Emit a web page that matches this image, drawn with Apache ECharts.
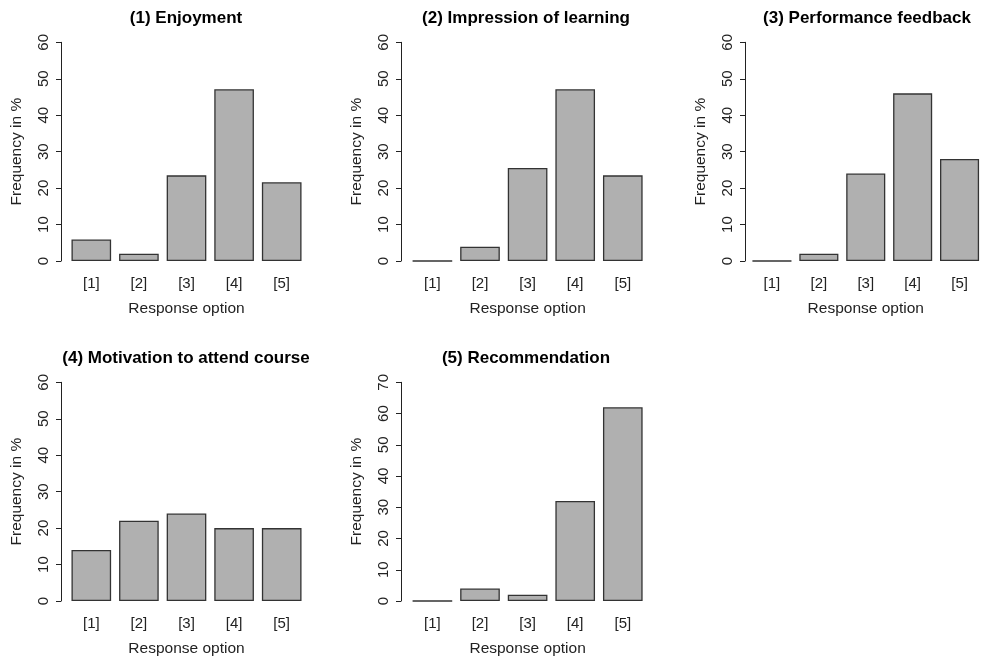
<!DOCTYPE html>
<html>
<head>
<meta charset="utf-8">
<script src="https://cdn.jsdelivr.net/npm/echarts@6/dist/echarts.min.js"></script>
<style>
html,body{margin:0;padding:0;background:#fff;}
#c{width:983px;height:659px;}
</style>
</head>
<body>
<div id="c"></div>
<script>
const categories = ['[1]', '[2]', '[3]', '[4]', '[5]'];
const titles = ['(1) Enjoyment', '(2) Impression of learning', '(3) Performance feedback', '(4) Motivation to attend course', '(5) Recommendation'];
const enjoyment = [5.9, 2.0, 23.5, 47.1, 21.6];
const impression = [0, 3.9, 25.5, 47.1, 23.5];
const feedback = [0, 2, 24, 46, 28];
const motivation = [14, 22, 24, 20, 20];
const recommendation = [0, 4, 2, 32, 62];
const yMax = [60, 60, 60, 60, 70];
const yStep = 10;
const xTitle = 'Response option';
const yTitle = 'Frequency in %';

const seriesData = [enjoyment, impression, feedback, motivation, recommendation];
const FONT = 'Liberation Sans, Arial, sans-serif';
const positions = [[0,0],[1,0],[2,0],[0,1],[1,1]];
const colLeft = [67.5, 408.6, 748.5];
const colAxis = [61, 401, 745];
const colTitle = [181, 521, 862];
const grids = [], xAxes = [], yAxes = [], series = [], title = [];
positions.forEach(function(p, i){
  const left = colLeft[p[0]];
  const top = 42.3 + 340 * p[1];
  grids.push({left: left, top: top, width: 238, height: 218.7});
  title.push({text: titles[i], left: colTitle[p[0]], top: 5 + 340 * p[1], textAlign: 'center',
    textStyle: {fontFamily: FONT, fontSize: 17, fontWeight: 'bold', color: '#000'}});
  xAxes.push({type: 'category', gridIndex: i, data: categories,
    axisLine: {show: false}, axisTick: {show: false},
    axisLabel: {fontFamily: FONT, fontSize: 15, color: '#222', margin: 15},
    name: xTitle, nameLocation: 'middle', nameGap: 40,
    nameTextStyle: {fontFamily: FONT, fontSize: 15.5, color: '#222'}});
  yAxes.push({type: 'value', gridIndex: i, min: 0, max: yMax[i], interval: yStep, offset: left - colAxis[p[0]],
    axisLine: {show: true, lineStyle: {color: '#222', width: 1}},
    axisTick: {show: true, length: 5, lineStyle: {color: '#222', width: 1}},
    splitLine: {show: false},
    axisLabel: {fontFamily: FONT, fontSize: 15, color: '#222', rotate: 90, margin: 10},
    name: yTitle, nameLocation: 'middle', nameGap: 36, nameRotate: 90,
    nameTextStyle: {fontFamily: FONT, fontSize: 15.5, color: '#222'}});
  series.push({type: 'bar', xAxisIndex: i, yAxisIndex: i, data: seriesData[i],
    barWidth: '83.3%', silent: true,
    itemStyle: {color: '#b0b0b0', borderColor: '#333', borderWidth: 1.3}});
});
const chart = echarts.init(document.getElementById('c'), null, {renderer: 'canvas'});
chart.setOption({animation: false, backgroundColor: '#fff', title: title, grid: grids, xAxis: xAxes, yAxis: yAxes, series: series});
</script>
</body>
</html>
